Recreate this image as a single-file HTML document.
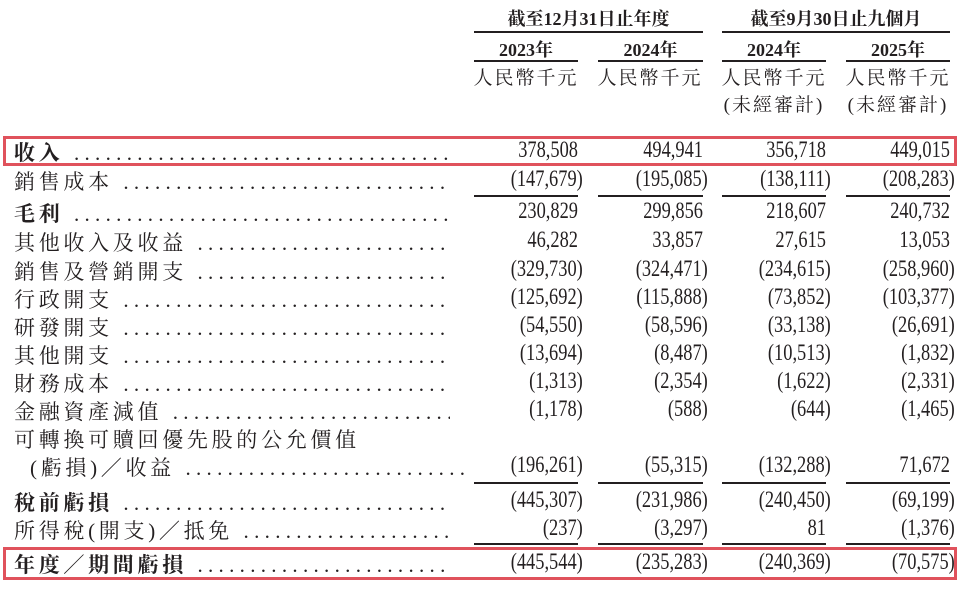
<!DOCTYPE html>
<html><head><meta charset="utf-8"><style>
body{margin:0;width:966px;height:589px;background:#fff;overflow:hidden;position:relative;color:#231f20}
.a{position:absolute;white-space:nowrap}
.h{font-family:"Liberation Serif","Noto Serif CJK SC",serif;font-size:18px;font-weight:bold;text-align:center}
.u{font-family:"Liberation Serif","Noto Serif CJK SC",serif;font-size:19px;text-align:center;letter-spacing:2px}
.ln{position:absolute;height:2px;background:#231f20}
.lb{font-family:"Liberation Serif","Noto Serif CJK SC",serif;font-size:21px;letter-spacing:3.7px;left:14px;width:436px;overflow:hidden}
.lb b{font-weight:bold}
.d{letter-spacing:5.3px}
.n{font-family:"Liberation Serif",serif;font-size:23px;text-align:right;width:130px;transform:scaleX(0.8);transform-origin:right center}
.p{margin-right:-6px}
.box{position:absolute;border:3px solid #e0525c;left:3px;width:948px}
</style></head><body>
<div class="a h" style="left:474px;width:229px;top:5px">截至12月31日止年度</div>
<div class="a h" style="left:722px;width:228px;top:5px">截至9月30日止九個月</div>
<div class="ln" style="left:474px;width:229px;top:31px"></div>
<div class="ln" style="left:722px;width:228px;top:31px"></div>
<div class="a h" style="left:474px;width:104px;top:36px">2023年</div>
<div class="a h" style="left:598px;width:105px;top:36px">2024年</div>
<div class="a h" style="left:722px;width:104px;top:36px">2024年</div>
<div class="a h" style="left:846px;width:104px;top:36px">2025年</div>
<div class="ln" style="left:474px;width:104px;top:60px"></div>
<div class="ln" style="left:598px;width:105px;top:60px"></div>
<div class="ln" style="left:722px;width:104px;top:60px"></div>
<div class="ln" style="left:846px;width:104px;top:60px"></div>
<div class="a u" style="left:470px;width:112px;top:63px">人民幣千元</div>
<div class="a u" style="left:594px;width:112px;top:63px">人民幣千元</div>
<div class="a u" style="left:718px;width:112px;top:63px">人民幣千元<br>(未經審計)</div>
<div class="a u" style="left:842px;width:112px;top:63px">人民幣千元<br>(未經審計)</div>

<div class="box" style="top:136px;height:24px"></div>
<div class="box" style="top:547px;height:27px"></div>

<div id="rows"></div>
<script>
var R=[
["<b>收入</b>",139,["378,508","494,941","356,718","449,015"]],
["銷售成本",168,["(147,679)","(195,085)","(138,111)","(208,283)"]],
["<b>毛利</b>",200,["230,829","299,856","218,607","240,732"]],
["其他收入及收益",229,["46,282","33,857","27,615","13,053"]],
["銷售及營銷開支",258,["(329,730)","(324,471)","(234,615)","(258,960)"]],
["行政開支",286,["(125,692)","(115,888)","(73,852)","(103,377)"]],
["研發開支",314,["(54,550)","(58,596)","(33,138)","(26,691)"]],
["其他開支",342,["(13,694)","(8,487)","(10,513)","(1,832)"]],
["財務成本",370,["(1,313)","(2,354)","(1,622)","(2,331)"]],
["金融資產減值",398,["(1,178)","(588)","(644)","(1,465)"]],
["(虧損)／收益",454,["(196,261)","(55,315)","(132,288)","71,672"]],
["<b>稅前虧損</b>",489,["(445,307)","(231,986)","(240,450)","(69,199)"]],
["所得稅(開支)／抵免",517,["(237)","(3,297)","81","(1,376)"]],
["<b>年度／期間虧損</b>",551,["(445,544)","(235,283)","(240,369)","(70,575)"]]
];
var X=[578,703,826,950],h="";
var dots=" "+Array(80).join(".");
R.forEach(function(r){
 var ind=r[0].indexOf("(虧損")==0?' style="top:'+(r[1]-2)+'px;left:30px"':' style="top:'+(r[1]-2)+'px"';
 h+='<div class="a lb"'+ind+'>'+r[0]+'<span class="d">'+dots+'</span></div>';
 r[2].forEach(function(v,i){
  var t=v;if(v[v.length-1]==")")t=v.slice(0,-1)+'<span class="p">)</span>';
  h+='<div class="a n" style="left:'+(X[i]-130)+'px;top:'+(r[1]-2)+'px">'+t+'</div>';
 });
});
h+='<div class="a lb" style="top:424px;overflow:visible">可轉換可贖回優先股的公允價值</div>';
[195,482,543].forEach(function(y){X.forEach(function(x,i){var w=i==1?105:104;h+='<div class="ln" style="left:'+(x-w)+'px;width:'+w+'px;top:'+y+'px;height:1.5px"></div>';});});
document.getElementById("rows").innerHTML=h;
</script>
</body></html>
